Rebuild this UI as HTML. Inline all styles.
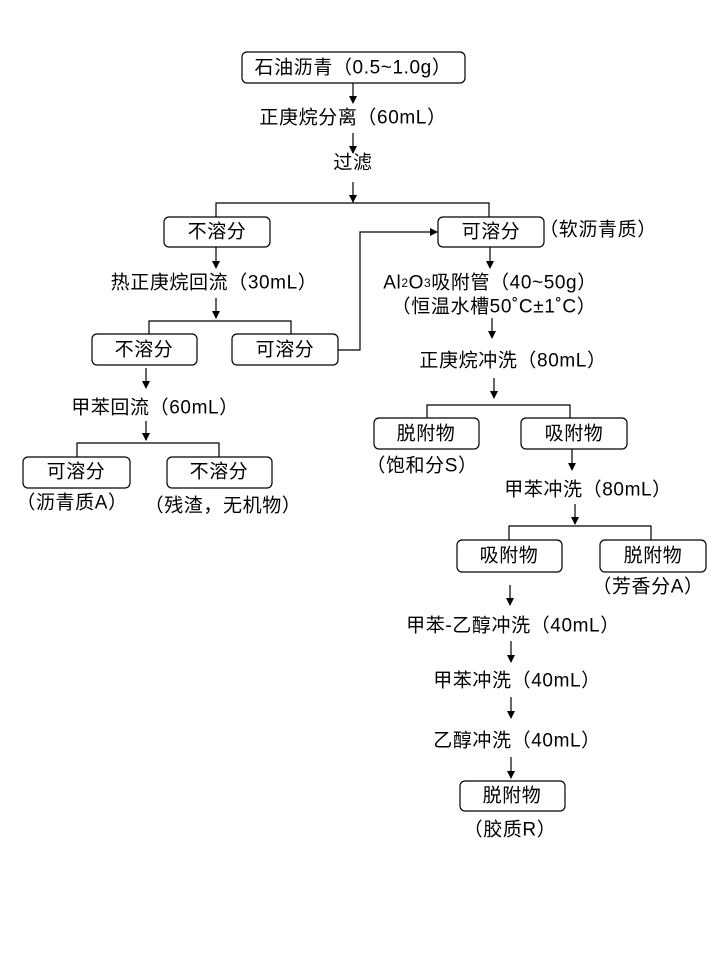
<!DOCTYPE html>
<html><head><meta charset="utf-8"><style>
body{margin:0;background:#fff}
svg text{font-family:"Liberation Sans","Noto Sans CJK SC",sans-serif;font-size:19px;letter-spacing:0.6px;fill:#000;text-anchor:middle;dominant-baseline:central}
</style></head><body>
<svg width="720" height="960" xmlns="http://www.w3.org/2000/svg">
<defs><marker id="a" markerWidth="8" markerHeight="8" refX="7" refY="4" orient="auto" markerUnits="userSpaceOnUse"><path d="M0,0 L8,4 L0,8 z" fill="#000"/></marker></defs>
<g fill="none" stroke="#000" stroke-width="1.2">
<rect x="242" y="52" width="223" height="31" rx="5"/>
<rect x="164" y="217" width="106" height="30" rx="5"/>
<rect x="438" y="217" width="106" height="30" rx="5"/>
<rect x="92" y="334" width="105" height="31" rx="5"/>
<rect x="232" y="334" width="106" height="31" rx="5"/>
<rect x="374" y="418" width="105" height="31" rx="5"/>
<rect x="521" y="418" width="106" height="31" rx="5"/>
<rect x="457" y="540" width="105" height="32" rx="5"/>
<rect x="600" y="540" width="106" height="32" rx="5"/>
<rect x="23" y="457" width="107" height="31" rx="5"/>
<rect x="167" y="457" width="105" height="31" rx="5"/>
<rect x="460" y="781" width="105" height="30" rx="5"/>
<g marker-end="url(#a)">
<path d="M353,83V103"/><path d="M353,133V153"/><path d="M353,182V202"/>
<path d="M216,247V268"/><path d="M216,298V318"/>
<path d="M338,350H360V232H437"/>
<path d="M490,247V268"/><path d="M492,318V338"/><path d="M494,378V398"/>
<path d="M572,449V470"/><path d="M575,504V524"/>
<path d="M510,585V605"/><path d="M511,641V662"/><path d="M511,697V718"/><path d="M511,757V778"/>
<path d="M146,368V388"/><path d="M146,421V440"/>
</g>
<path d="M216,217V203H489V217"/>
<path d="M149,334V321H291V334"/>
<path d="M427,418V405H570V418"/>
<path d="M509,540V526H651V540"/>
<path d="M77,457V443H219V457"/>
</g>
<text x="353" y="68">石油沥青（0.5~1.0g）</text>
<text x="353" y="118">正庚烷分离（60mL）</text>
<text x="353" y="163">过滤</text>
<text x="217" y="232">不溶分</text>
<text x="491" y="232">可溶分</text>
<text x="598" y="230">（软沥青质）</text>
<text x="214" y="283">热正庚烷回流（30mL）</text>
<text x="144" y="350">不溶分</text>
<text x="285" y="350">可溶分</text>
<text x="490" y="283">Al<tspan font-size="12">2</tspan>O<tspan font-size="12">3</tspan>吸附管（40~50g）</text>
<text x="494" y="307">（恒温水槽50˚C±1˚C）</text>
<text x="513" y="361">正庚烷冲洗（80mL）</text>
<text x="426" y="434">脱附物</text>
<text x="574" y="434">吸附物</text>
<text x="422" y="466">（饱和分S）</text>
<text x="588" y="490">甲苯冲洗（80mL）</text>
<text x="509" y="556">吸附物</text>
<text x="653" y="556">脱附物</text>
<text x="648" y="587">（芳香分A）</text>
<text x="513" y="626">甲苯-乙醇冲洗（40mL）</text>
<text x="517" y="681">甲苯冲洗（40mL）</text>
<text x="517" y="741">乙醇冲洗（40mL）</text>
<text x="512" y="796">脱附物</text>
<text x="510" y="830">（胶质R）</text>
<text x="155" y="408">甲苯回流（60mL）</text>
<text x="76" y="472">可溶分</text>
<text x="219" y="472">不溶分</text>
<text x="72" y="503">（沥青质A）</text>
<text x="223" y="506">（残渣，无机物）</text>
</svg>
</body></html>
